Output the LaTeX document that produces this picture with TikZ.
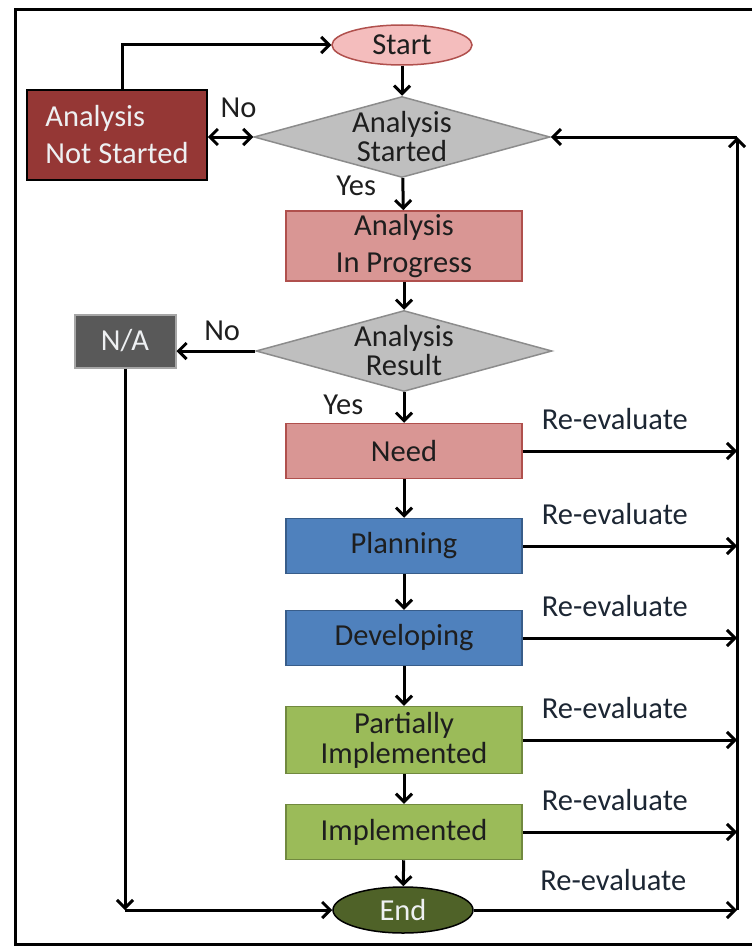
\documentclass[tikz,border=0pt]{standalone}
\usepackage{fontspec}
\setmainfont{Carlito}
\usetikzlibrary{shapes.geometric,arrows.meta}

\definecolor{startfill}{HTML}{F4BDBD}
\definecolor{redline}{HTML}{B0504D}
\definecolor{darkred}{HTML}{953735}
\definecolor{pinkfill}{HTML}{D99694}
\definecolor{decfill}{HTML}{BFBFBF}
\definecolor{decline}{HTML}{8C8C8C}
\definecolor{nafill}{HTML}{595959}
\definecolor{naline}{HTML}{A6A6A6}
\definecolor{bluefill}{HTML}{4F81BD}
\definecolor{blueline}{HTML}{385D8A}
\definecolor{greenfill}{HTML}{9BBB59}
\definecolor{greenline}{HTML}{71893F}
\definecolor{endfill}{HTML}{4F6228}
\definecolor{lighttext}{HTML}{EEF0F2}
\definecolor{darktext}{HTML}{1E1E1E}
\definecolor{notecol}{HTML}{1C2633}

\begin{document}
\begin{tikzpicture}[x=1pt,y=-1pt,
		every node/.style={font=\fontsize{30.5}{33}\selectfont,text=darktext},
		terminal/.style={ellipse,draw,line width=1.5pt,minimum width=140pt},
		process/.style={rectangle,draw,line width=1.5pt,minimum width=236pt,minimum height=55pt,align=center},
		decision/.style={diamond,draw=decline,fill=decfill,line width=1.5pt,minimum width=296pt,minimum height=81pt,inner sep=0pt},
		flow/.style={line width=3pt,-{Straight Barb[length=8pt,width=16pt]}},
		note/.style={text=notecol}]
	\useasboundingbox (0,0) rectangle (752,947);
	\draw[line width=3pt] (752,10) -| (15,944) -- (752,944);
	
	\begin{scope}
		\node[terminal,fill=startfill,draw=redline,minimum height=40pt] (start) at (402,45) {Start};
		\node[decision,label={[align=center,font=\fontsize{30.5}{29}\selectfont]center:{Analysis\\Started}}] (started) at (402,137) {};
		\node[rectangle,draw=black,fill=darkred,line width=1.5pt,minimum width=180pt,minimum height=90pt,align=left,text=lighttext] (notstarted) at (117,135) {Analysis\\[4pt]Not Started};
		\node[process,fill=pinkfill,draw=redline,minimum height=68pt] (progress) at (404,246) {Analysis\\[4pt]In Progress};
		\node[decision,label={[align=center,font=\fontsize{30.5}{29}\selectfont]center:{Analysis\\Result}}] (result) at (404,351) {};
		\node[rectangle,draw=naline,fill=nafill,line width=2pt,minimum width=101pt,minimum height=53pt,text=lighttext] (na) at (125,341) {N/A};
		\node[process,fill=pinkfill,draw=redline] (need) at (404,451) {Need};
		\node[process,fill=bluefill,draw=blueline] (planning) at (404,546) {Planning};
		\node[process,fill=bluefill,draw=blueline] (developing) at (404,638) {Developing};
		\node[process,fill=greenfill,draw=greenline,minimum height=67pt,font=\fontsize{30.5}{30}\selectfont] (partial) at (404,740) {Partially\\Implemented};
		\node[process,fill=greenfill,draw=greenline] (implemented) at (404,832) {Implemented};
		\node[terminal,fill=endfill,draw=black,minimum height=46pt,text=lighttext] (end) at (403,910) {End};
	\end{scope}
	
	\coordinate (rtop) at (737,137);
	\coordinate (rbot) at (737,910);
	\coordinate (nacorner) at (125,910);
	
	\begin{scope}
		\draw[flow] (start) -- (started);
		\draw[flow] ([xshift=5pt]notstarted.north) |- (start.west);
		\draw[line width=3pt,{Straight Barb[length=8pt,width=16pt]}-{Straight Barb[length=8pt,width=16pt]}] (started.west -| notstarted.east) -- (started.west) node[midway,above=14pt,xshift=8pt] {No};
		\draw[flow] (started) -- (progress) node[pos=0.25,left=22pt] {Yes};
		\draw[flow] (progress) -- (result);
		\draw[flow] (result.west) -- (result.west -| na.east) node[pos=0.42,above=5pt] {No};
		\draw[flow] (result) -- (need) node[pos=0.4,left=36pt] {Yes};
		\draw[flow] (need) -- (planning);
		\draw[flow] (planning) -- (developing);
		\draw[flow] (developing) -- (partial);
		\draw[flow] (partial) -- (implemented);
		\draw[flow] (implemented) -- (end);
		\draw[flow] (na.south) -- (nacorner);
		\draw[flow] (nacorner) -- (end.west);
		% re-evaluate loop
		\draw[flow] (need.east) -- (need.east -| rtop) node[note,pos=0.43,above=16pt] {Re-evaluate};
		\draw[flow] (planning.east) -- (planning.east -| rtop) node[note,pos=0.43,above=16pt] {Re-evaluate};
		\draw[flow] (developing.east) -- (developing.east -| rtop) node[note,pos=0.43,above=16pt] {Re-evaluate};
		\draw[flow] (partial.east) -- (partial.east -| rtop) node[note,pos=0.43,above=16pt] {Re-evaluate};
		\draw[flow] (implemented.east) -- (implemented.east -| rtop) node[note,pos=0.43,above=16pt] {Re-evaluate};
		\draw[flow] (end.east) -- (rbot) node[note,pos=0.53,above=14pt] {Re-evaluate};
		\draw[flow] (rbot) -- (rtop);
		\draw[flow] (rtop) -- (started.east);
	\end{scope}
\end{tikzpicture}
\end{document}
